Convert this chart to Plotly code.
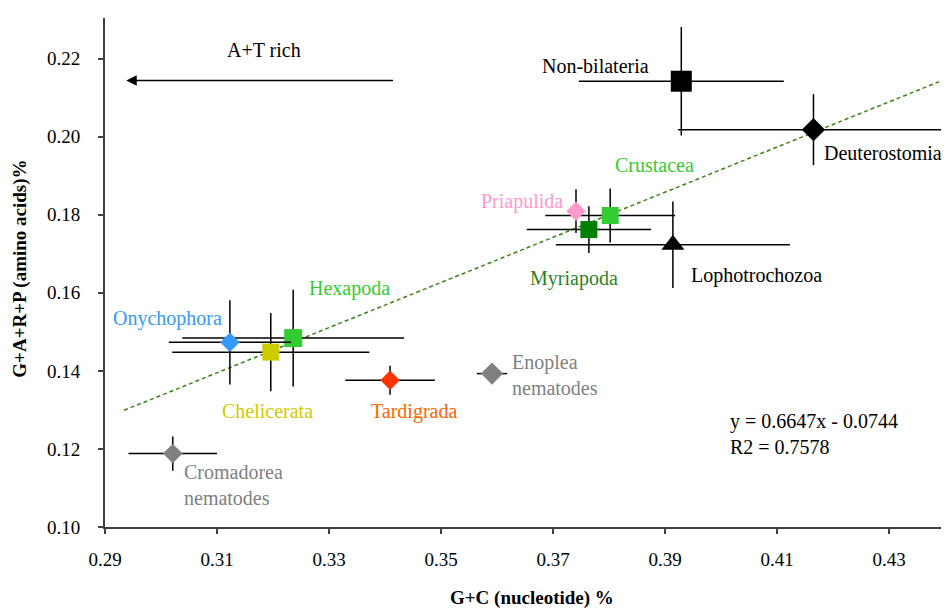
import plotly.graph_objects as go

groups = ["Non-bilateria", "Deuterostomia", "Crustacea", "Priapulida", "Myriapoda",
          "Lophotrochozoa", "Hexapoda", "Onychophora", "Chelicerata", "Tardigrada",
          "Enoplea nematodes", "Cromadorea nematodes"]
gc = [0.3929, 0.4165, 0.3802, 0.3741, 0.3764, 0.3914, 0.3236, 0.3123, 0.3196, 0.3409, 0.3591, 0.3021]
garp = [0.2142, 0.2018, 0.1798, 0.1809, 0.1762, 0.1723, 0.1484, 0.1473, 0.1448, 0.1376, 0.1393, 0.1188]
gc_err = [0.0183, 0.0242, 0.0116, 0.0, 0.0111, 0.0209, 0.0198, 0.0109, 0.0176, 0.0080, 0.0027, 0.0079]
garp_err = [0.0139, 0.0091, 0.0069, 0.0056, 0.0060, 0.0111, 0.0124, 0.0108, 0.0100, 0.0037, 0.0, 0.0044]
symbols = ["square", "diamond", "square", "diamond", "square", "triangle-up", "square",
           "diamond", "square", "diamond", "diamond", "diamond"]
sizes = [21, 18, 17, 15, 17, 20, 18, 15, 17, 15, 17, 15]
marker_colors = ["#000000", "#000000", "#33cc33", "#ff99cc", "#008000", "#000000", "#33cc33",
                 "#3399ff", "#cccc00", "#ff3300", "#808080", "#808080"]

# labels
label_text = ["Non-bilateria", "Deuterostomia", "Crustacea", "Priapulida", "Myriapoda",
              "Lophotrochozoa", "Hexapoda", "Onychophora", "Chelicerata", "Tardigrada",
              "Enoplea<br>nematodes", "Cromadorea<br>nematodes"]
label_x = [0.3775, 0.4290, 0.3882, 0.3644, 0.3738, 0.4063, 0.3336, 0.3012, 0.3191, 0.3452, 0.3624, 0.3037]
label_y = [0.2180, 0.1958, 0.1927, 0.1833, 0.1636, 0.1644, 0.1612, 0.1533, 0.1296, 0.1296, 0.1390, 0.1107]
label_colors = ["#000000", "#000000", "#33cc33", "#ff99cc", "#2f7f1f", "#000000", "#33cc33",
                "#3399ff", "#cccc00", "#ff6600", "#808080", "#808080"]
label_anchor = ["center"] * 10 + ["left", "left"]

trend_x = [0.2934, 0.4407]
trend_y = [0.1299, 0.2151]
equation_text = "y = 0.6647x - 0.0744<br>R2 = 0.7578"

x_ticks = [0.29, 0.31, 0.33, 0.35, 0.37, 0.39, 0.41, 0.43]
y_ticks = [0.10, 0.12, 0.14, 0.16, 0.18, 0.20, 0.22]

FONT = "Liberation Serif, Times New Roman, serif"

fig = go.Figure()

fig.add_trace(go.Scatter(
    x=trend_x, y=trend_y, mode="lines",
    line=dict(color="#3f7f1f", width=1.5, dash="4px,3px"),
    hoverinfo="skip", showlegend=False))

for i, g in enumerate(groups):
    fig.add_trace(go.Scatter(
        x=[gc[i]], y=[garp[i]], mode="markers", name=g,
        marker=dict(symbol=symbols[i], size=sizes[i], color=marker_colors[i],
                    line=dict(width=0)),
        error_x=dict(type="data", array=[gc_err[i]], visible=True, width=0,
                     thickness=1.5, color="#000000"),
        error_y=dict(type="data", array=[garp_err[i]], visible=True, width=0,
                     thickness=1.5, color="#000000"),
        showlegend=False))

annotations = []
for i in range(len(label_text)):
    annotations.append(dict(
        x=label_x[i], y=label_y[i], xref="x", yref="y", text=label_text[i],
        showarrow=False, xanchor=label_anchor[i], yanchor="middle", align="left",
        font=dict(family=FONT, size=20, color=label_colors[i])))

annotations.append(dict(
    x=0.4013, y=0.1237, xref="x", yref="y", text=equation_text, showarrow=False,
    xanchor="left", yanchor="middle", align="left",
    font=dict(family=FONT, size=20, color="#000000")))

# A+T rich arrow
annotations.append(dict(
    x=0.2938, y=0.2144, ax=0.3417, ay=0.2144, xref="x", yref="y", axref="x", ayref="y",
    text="", showarrow=True, arrowhead=2, arrowsize=1.4, arrowwidth=1.5,
    arrowcolor="#000000", standoff=0, startstandoff=0))
annotations.append(dict(
    x=0.3183, y=0.2221, xref="x", yref="y", text="A+T rich", showarrow=False,
    xanchor="center", yanchor="middle",
    font=dict(family=FONT, size=20, color="#000000")))

# axis titles
annotations.append(dict(
    x=(532 - 105) / 844, y=(527.3 - 598) / 509, xref="paper", yref="paper",
    text="<b>G+C (nucleotide) %</b>", showarrow=False, xanchor="center", yanchor="middle",
    font=dict(family=FONT, size=19, color="#000000")))
annotations.append(dict(
    x=(20 - 105) / 844, y=(527.3 - 269) / 509, xref="paper", yref="paper",
    text="<b>G+A+R+P (amino acids)%</b>", showarrow=False, textangle=-90,
    xanchor="center", yanchor="middle",
    font=dict(family=FONT, size=19, color="#000000")))

# page body has an 8px margin, so the figure is 8px smaller and starts at (8, 8)
fig.update_layout(
    width=941, height=600,
    margin=dict(l=97, r=0, t=10, b=81),
    paper_bgcolor="white", plot_bgcolor="white",
    font=dict(family=FONT, size=19, color="#000000"),
    annotations=annotations,
    showlegend=False,
)
fig.update_xaxes(
    range=[0.29, 0.4407], tickvals=x_ticks, ticktext=[f"{v:.2f}" for v in x_ticks],
    showgrid=False, zeroline=False, showline=True, linecolor="#404040", linewidth=2,
    ticks="outside", ticklen=5, tickwidth=2, tickcolor="#404040",
    ticklabelstandoff=9, tickfont=dict(family=FONT, size=19, color="#000000"))
fig.update_yaxes(
    range=[0.10, 0.2304], tickvals=y_ticks, ticktext=[f"{v:.2f}" for v in y_ticks],
    showgrid=False, zeroline=False, showline=True, linecolor="#404040", linewidth=2,
    ticks="outside", ticklen=5, tickwidth=2, tickcolor="#404040",
    ticklabelstandoff=14, tickfont=dict(family=FONT, size=19, color="#000000"))

fig.write_html("out.html")
